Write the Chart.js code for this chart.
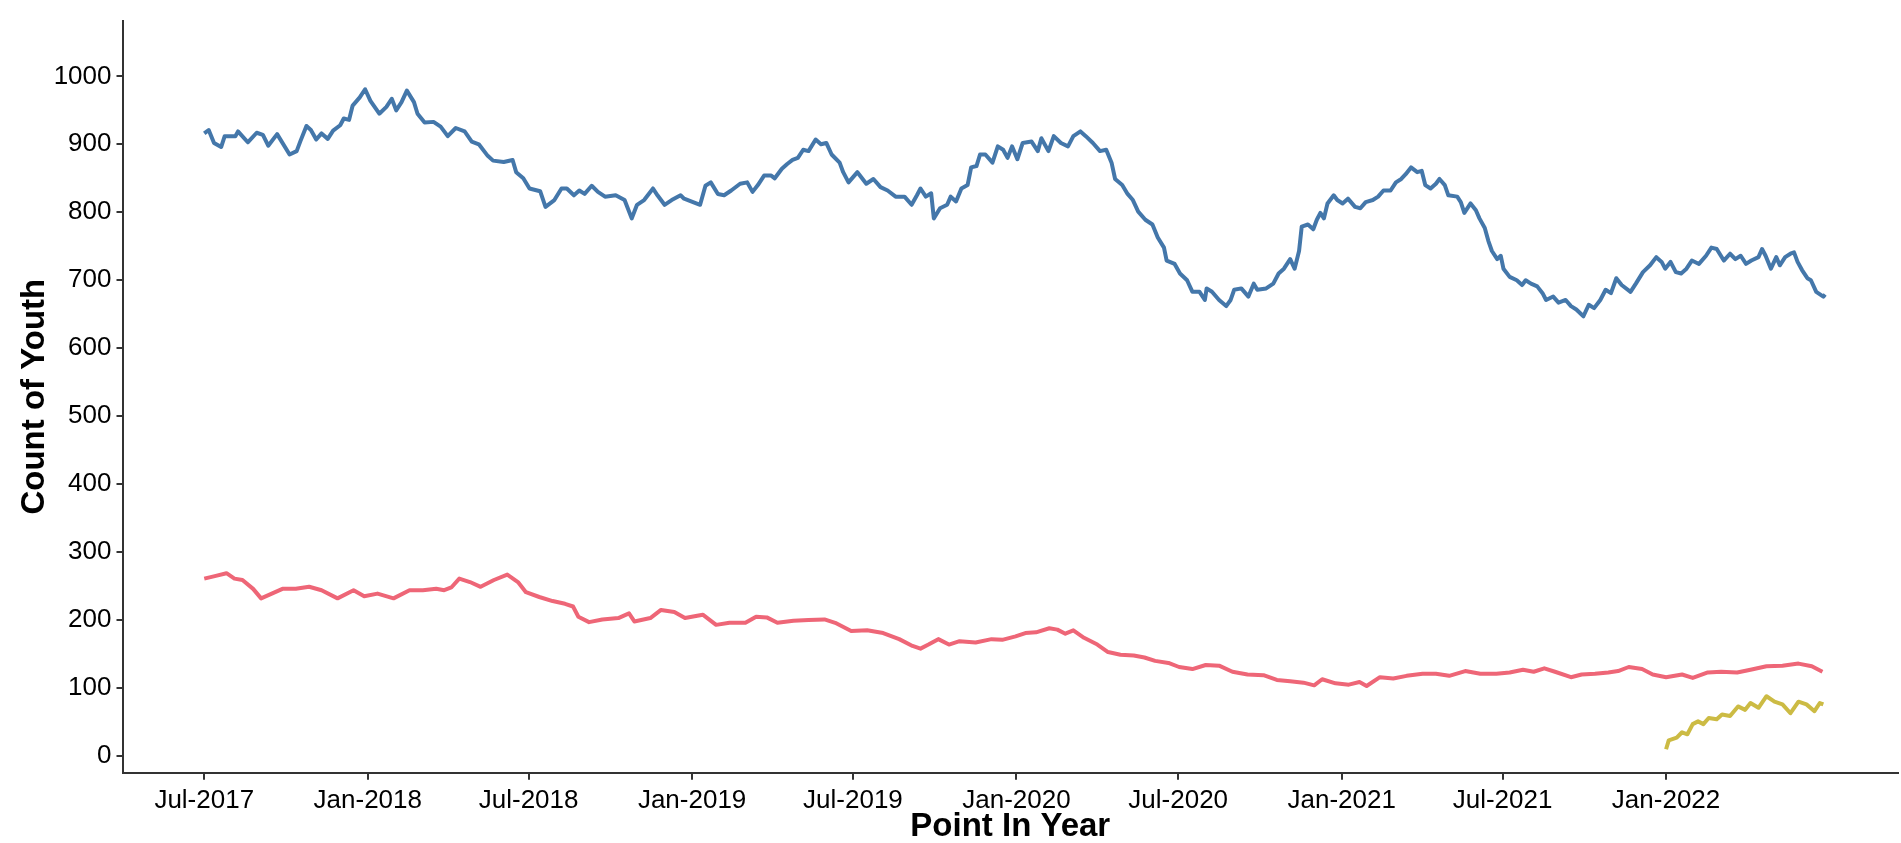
<!DOCTYPE html>
<html lang="en">
<head>
<meta charset="utf-8">
<title>Count of Youth by Point In Year</title>
<script src="https://cdn.jsdelivr.net/npm/chart.js"></script>
<style>
    html, body { margin: 0; padding: 0; background: #fff; }
    canvas { display: block; }
</style>
</head>
<body>
<canvas id="youthChart" width="1901" height="843"></canvas>
<script>
    // x values are days since 2017-07-01 (daily point-in-year counts)
    const startDate = '2017-07-01';

    const xTickDates = ['2017-07-01', '2018-01-01', '2018-07-01', '2019-01-01', '2019-07-01',
                        '2020-01-01', '2020-07-01', '2021-01-01', '2021-07-01', '2022-01-01'];
    const xTickLabels = ['Jul-2017', 'Jan-2018', 'Jul-2018', 'Jan-2019', 'Jul-2019',
                         'Jan-2020', 'Jul-2020', 'Jan-2021', 'Jul-2021', 'Jan-2022'];
    const yTickValues = [0, 100, 200, 300, 400, 500, 600, 700, 800, 900, 1000];

    // blue series
    const blueDays = [0, 5, 11, 19, 23, 35, 38, 49, 59, 66, 72, 82, 96, 104, 108, 115, 120, 126, 132, 139,
        145, 153, 157, 163, 167, 175, 181, 187, 197, 205, 211, 216, 222, 228, 236, 240, 248, 258, 266, 274,
        283, 293, 301, 309, 319, 325, 337, 347, 351, 359, 366, 378, 384, 394, 402, 408, 416, 422, 428, 436,
        443, 451, 463, 473, 481, 487, 495, 505, 510, 518, 526, 536, 540, 550, 558, 564, 570, 578, 585, 593,
        603, 611, 617, 623, 630, 638, 642, 650, 656, 662, 668, 674, 680, 688, 694, 700, 706, 715, 719, 725,
        735, 745, 753, 761, 769, 778, 788, 796, 802, 806, 812, 818, 821, 828, 836, 840, 846, 852, 859, 863,
        869, 873, 879, 887, 893, 899, 904, 909, 915, 921, 931, 938, 942, 950, 956, 964, 972, 978, 986, 992,
        1000, 1008, 1015, 1021, 1025, 1033, 1039, 1045, 1051, 1059, 1067, 1073, 1080, 1083, 1092, 1098, 1106, 1112, 1120, 1126,
        1128, 1134, 1142, 1150, 1155, 1159, 1167, 1175, 1181, 1185, 1195, 1203, 1209, 1215, 1222, 1227, 1232, 1235, 1242, 1248,
        1252, 1256, 1260, 1264, 1271, 1275, 1281, 1287, 1295, 1301, 1307, 1315, 1321, 1327, 1335, 1341, 1347, 1352, 1358, 1365,
        1370, 1374, 1380, 1386, 1390, 1396, 1400, 1410, 1414, 1418, 1425, 1431, 1435, 1441, 1445, 1449, 1455, 1459, 1462, 1469,
        1477, 1483, 1487, 1493, 1500, 1506, 1510, 1518, 1524, 1532, 1538, 1544, 1552, 1558, 1564, 1571, 1577, 1583, 1589, 1595,
        1605, 1611, 1619, 1627, 1634, 1640, 1644, 1650, 1656, 1662, 1668, 1674, 1682, 1690, 1696, 1702, 1710, 1717, 1723, 1729,
        1735, 1741, 1749, 1753, 1757, 1763, 1769, 1773, 1779, 1785, 1789, 1793, 1798, 1804, 1808, 1814, 1822, 1824];
    const blueCounts = [916, 921, 902, 896, 912, 912, 919, 903, 917, 914, 898, 915, 885, 890, 904, 927, 921, 907, 916, 908,
        920, 928, 938, 936, 957, 969, 981, 964, 945, 955, 967, 950, 962, 979, 962, 945, 932, 933, 926, 912,
        924, 919, 904, 900, 883, 876, 874, 877, 859, 850, 835, 831, 808, 818, 835, 835, 825, 832, 827, 839,
        830, 823, 825, 818, 791, 811, 818, 835, 825, 811, 818, 825, 820, 815, 811, 839, 844, 827, 825, 832,
        842, 844, 830, 840, 854, 854, 850, 864, 871, 877, 880, 892, 890, 907, 900, 902, 885, 873, 859, 844,
        859, 842, 849, 837, 832, 823, 823, 811, 825, 835, 823, 828, 791, 806, 811, 823, 816, 835, 840, 866,
        868, 885, 885, 873, 897, 892, 880, 897, 878, 902, 904, 890, 909, 890, 912, 902, 897, 912, 919, 912,
        902, 890, 892, 873, 849, 840, 827, 818, 801, 789, 782, 763, 748, 729, 724, 710, 700, 683, 683, 671,
        688, 683, 671, 662, 671, 686, 688, 676, 695, 686, 688, 695, 710, 717, 731, 717, 743, 779, 782, 775,
        789, 799, 791, 813, 825, 818, 813, 820, 808, 806, 815, 818, 823, 832, 832, 844, 849, 856, 866, 859,
        861, 840, 835, 842, 849, 840, 825, 823, 815, 799, 813, 803, 791, 777, 758, 743, 731, 736, 717, 705,
        700, 693, 700, 695, 691, 681, 671, 676, 667, 671, 662, 657, 647, 664, 659, 671, 686, 681, 703, 693,
        683, 695, 712, 722, 734, 727, 717, 727, 712, 710, 717, 729, 724, 736, 748, 746, 729, 739, 731, 736,
        724, 729, 734, 746, 736, 717, 734, 722, 734, 739, 741, 727, 715, 703, 700, 683, 676, 679];

    // red series
    const redDays = [0, 13, 25, 34, 43, 55, 64, 76, 88, 103, 118, 132, 150, 168, 180, 195, 213, 231, 246, 261,
        270, 278, 287, 299, 311, 326, 341, 353, 362, 377, 392, 406, 415, 421, 433, 448, 466, 478, 484, 502,
        514, 529, 541, 561, 576, 591, 609, 621, 633, 645, 663, 680, 698, 710, 728, 746, 764, 782, 797, 806,
        815, 826, 838, 850, 868, 886, 898, 913, 924, 936, 951, 960, 969, 978, 990, 1005, 1017, 1031, 1046, 1058,
        1070, 1085, 1097, 1112, 1127, 1142, 1157, 1174, 1192, 1207, 1222, 1237, 1249, 1258, 1273, 1288, 1300, 1308, 1323, 1338,
        1353, 1371, 1386, 1401, 1419, 1436, 1454, 1469, 1484, 1496, 1508, 1520, 1538, 1550, 1565, 1580, 1591, 1603, 1618, 1630,
        1645, 1663, 1675, 1692, 1707, 1725, 1740, 1758, 1776, 1794, 1809, 1821];
    const redCounts = [261, 265, 269, 261, 259, 246, 232, 239, 246, 246, 249, 244, 232, 244, 235, 239, 232, 244, 244, 246,
        244, 248, 261, 256, 249, 259, 267, 256, 241, 234, 228, 224, 220, 205, 197, 201, 203, 210, 198, 203,
        215, 212, 203, 208, 193, 196, 196, 205, 204, 196, 199, 200, 201, 196, 184, 185, 181, 172, 162, 158,
        164, 172, 164, 169, 167, 172, 171, 176, 181, 182, 188, 186, 180, 185, 174, 164, 153, 149, 148, 145,
        140, 137, 131, 128, 134, 133, 124, 120, 119, 112, 110, 108, 104, 113, 107, 105, 109, 103, 116, 114,
        118, 121, 121, 118, 125, 121, 121, 123, 127, 124, 129, 124, 116, 120, 121, 123, 125, 131, 128, 120,
        116, 120, 115, 123, 124, 123, 127, 132, 133, 136, 132, 124];

    // yellow series (starts Jan-2022)
    const yellowDays = [1645, 1648, 1657, 1663, 1669, 1675, 1681, 1687, 1693, 1702, 1708, 1717, 1726, 1734, 1740,
        1749, 1758, 1767, 1776, 1785, 1794, 1803, 1812, 1818, 1822];
    const yellowCounts = [10, 23, 27, 35, 32, 47, 51, 47, 56, 54, 61, 59, 73, 68, 78,
        71, 88, 80, 76, 63, 80, 76, 66, 78, 76];

    const fontFamily = "'Liberation Sans', Arial, Helvetica, sans-serif";

    function dayOf(d) {
        return (Date.parse(d) - Date.parse(startDate)) / 86400000;
    }
    function toPoints(days, counts) {
        return days.map(function (d, i) { return {x: d, y: counts[i]}; });
    }

    const xTickDays = xTickDates.map(dayOf);

    new Chart(document.getElementById('youthChart'), {
        type: 'line',
        data: {
            datasets: [{
                label: 'Series 1',
                data: toPoints(blueDays, blueCounts),
                borderColor: '#4477AA'
            }, {
                label: 'Series 2',
                data: toPoints(redDays, redCounts),
                borderColor: '#EE6677'
            }, {
                label: 'Series 3',
                data: toPoints(yellowDays, yellowCounts),
                borderColor: '#CCBB44'
            }]
        },
        options: {
            responsive: false,
            animation: false,
            parsing: false,
            layout: { padding: { top: 5, right: 3, left: 0, bottom: 0 } },
            plugins: {
                legend: { display: false },
                tooltip: { enabled: false }
            },
            elements: {
                point: { radius: 0 },
                line: { tension: 0, borderWidth: 4, borderJoinStyle: 'round' }
            },
            scales: {
                x: {
                    type: 'linear',
                    min: -92,
                    max: 1906,
                    afterBuildTicks: function (axis) {
                        axis.ticks = xTickDays.map(function (v) { return {value: v}; });
                    },
                    afterFit: function (axis) { axis.height = 70.3; },
                    grid: { drawOnChartArea: false, tickLength: 7, color: '#333', lineWidth: 2 },
                    border: { color: '#333', width: 2 },
                    ticks: {
                        autoSkip: false,
                        maxRotation: 0,
                        padding: 6,
                        color: '#000',
                        font: { family: fontFamily, size: 26 },
                        callback: function (value, index) { return xTickLabels[index]; }
                    },
                    title: {
                        display: true,
                        text: 'Point In Year',
                        color: '#000',
                        font: { family: fontFamily, size: 33, weight: 'bold', lineHeight: 1 },
                        padding: { top: 0, bottom: 0 }
                    }
                },
                y: {
                    min: -24.5,
                    max: 1082,
                    afterBuildTicks: function (axis) {
                        axis.ticks = yTickValues.map(function (v) { return {value: v}; });
                    },
                    afterFit: function (axis) { axis.width = 122.5; },
                    grid: { drawOnChartArea: false, tickLength: 6, color: '#333', lineWidth: 2 },
                    border: { color: '#333', width: 2 },
                    ticks: {
                        padding: 5,
                        color: '#000',
                        font: { family: fontFamily, size: 26 },
                        callback: function (value) { return String(value); }
                    },
                    title: {
                        display: true,
                        text: 'Count of Youth',
                        color: '#000',
                        font: { family: fontFamily, size: 33, weight: 'bold', lineHeight: 1 },
                        padding: { top: 18.5, bottom: 0 }
                    }
                }
            }
        }
    });
</script>
</body>
</html>
